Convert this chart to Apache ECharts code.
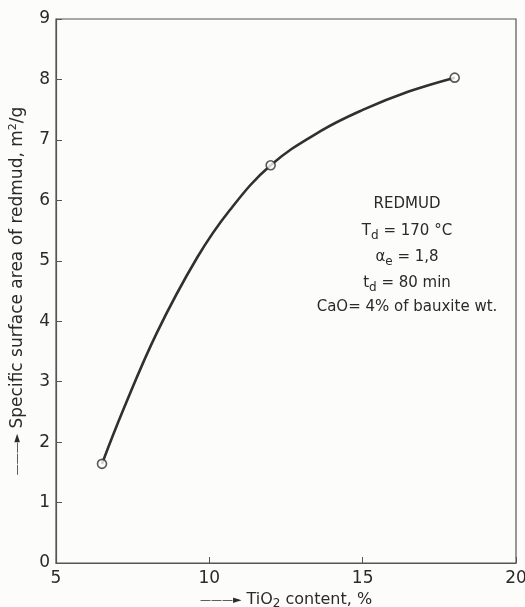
<!DOCTYPE html>
<html>
<head>
<meta charset="utf-8">
<script src="https://cdn.jsdelivr.net/npm/echarts@6/dist/echarts.min.js"></script>
<style>
html,body{margin:0;padding:0;background:#fcfcfa;}
#c{width:525px;height:607px;}
</style>
</head>
<body>
<div id="c"></div>
<script>
// Measured points (TiO2 %, specific surface area m2/g)
const pointX = [6.5, 12, 18];
const pointY = [1.64, 6.58, 8.03];
// Fitted curve
const curveX = [6.5, 7.19, 8.28, 9.6, 10.67, 12.0, 13.61, 15.02, 16.5, 18.0];
const curveY = [1.64, 2.53, 3.80, 5.05, 5.84, 6.58, 7.14, 7.50, 7.80, 8.03];
const xTicks = [5, 10, 15, 20];
const yTicks = [0, 1, 2, 3, 4, 5, 6, 7, 8, 9];
const noteLines = ['REDMUD', 'T{s|d} = 170 °C', 'α{s|e} = 1,8', 't{s|d} = 80 min', 'CaO= 4% of bauxite wt.'];

const chart = echarts.init(document.getElementById('c'));
const ink = '#2a2a2a';
const font = 'DejaVu Sans';
const noteTop = [204, 231, 257, 283, 307];
chart.setOption({
  backgroundColor: '#fcfcfa',
  animation: false,
  grid: {left: 56, right: 9, top: 19, bottom: 44, show: true, borderColor: '#555', borderWidth: 1.2,
         backgroundColor: 'transparent', containLabel: false, outerBoundsMode: 'none'},
  xAxis: {
    type: 'value', min: xTicks[0], max: xTicks[xTicks.length - 1], interval: 5,
    axisLine: {show: true, lineStyle: {color: '#555', width: 1.2}},
    axisTick: {show: true, inside: true, length: 6, lineStyle: {color: '#555'}},
    splitLine: {show: false},
    axisLabel: {color: ink, fontSize: 17, fontFamily: font, margin: 7},
    name: '{a|———►} TiO{s|2} content, %',
    nameLocation: 'middle', nameGap: 25,
    nameTextStyle: {
      color: ink, fontSize: 16, fontFamily: font,
      rich: {
        a: {fontSize: 11, color: ink, fontFamily: font},
        s: {fontSize: 12, color: ink, fontFamily: font, verticalAlign: 'bottom', padding: [7, 0, 0, 0]}
      }
    }
  },
  yAxis: {
    type: 'value', min: yTicks[0], max: yTicks[yTicks.length - 1], interval: 1,
    axisLine: {show: true, lineStyle: {color: '#555', width: 1.2}},
    axisTick: {show: true, inside: true, length: 6, lineStyle: {color: '#555'}},
    splitLine: {show: false},
    axisLabel: {color: ink, fontSize: 17, fontFamily: font, margin: 6},
    name: '{a|———►} Specific surface area of redmud, m{p|2}/g',
    nameLocation: 'middle', nameGap: 29, nameRotate: 90,
    nameTextStyle: {
      color: ink, fontSize: 17, fontFamily: font,
      rich: {
        a: {fontSize: 11, color: ink, fontFamily: font},
        p: {fontSize: 11, color: ink, fontFamily: font, verticalAlign: 'top', padding: [0, 0, 8, 0]}
      }
    }
  },
  graphic: noteLines.map((t, i) => ({
    type: 'text', x: 407, y: noteTop[i],
    style: {
      text: t, fill: ink, font: '15px "DejaVu Sans"', align: 'center', verticalAlign: 'middle',
      rich: {
        s: {fontSize: 12, fill: ink, fontFamily: font, verticalAlign: 'bottom', padding: [9, 0, 0, 0]}
      }
    }
  })),
  series: [{
    type: 'line', smooth: 0.4, symbol: 'none',
    data: curveX.map((x, i) => [x, curveY[i]]),
    lineStyle: {color: '#303030', width: 2.6}, z: 2
  }, {
    type: 'scatter', symbol: 'circle', symbolSize: 9,
    data: pointX.map((x, i) => [x, pointY[i]]),
    itemStyle: {color: '#fcfcfa', borderColor: '#303030', borderWidth: 1.6}, z: 3
  }]
});
</script>
</body>
</html>
